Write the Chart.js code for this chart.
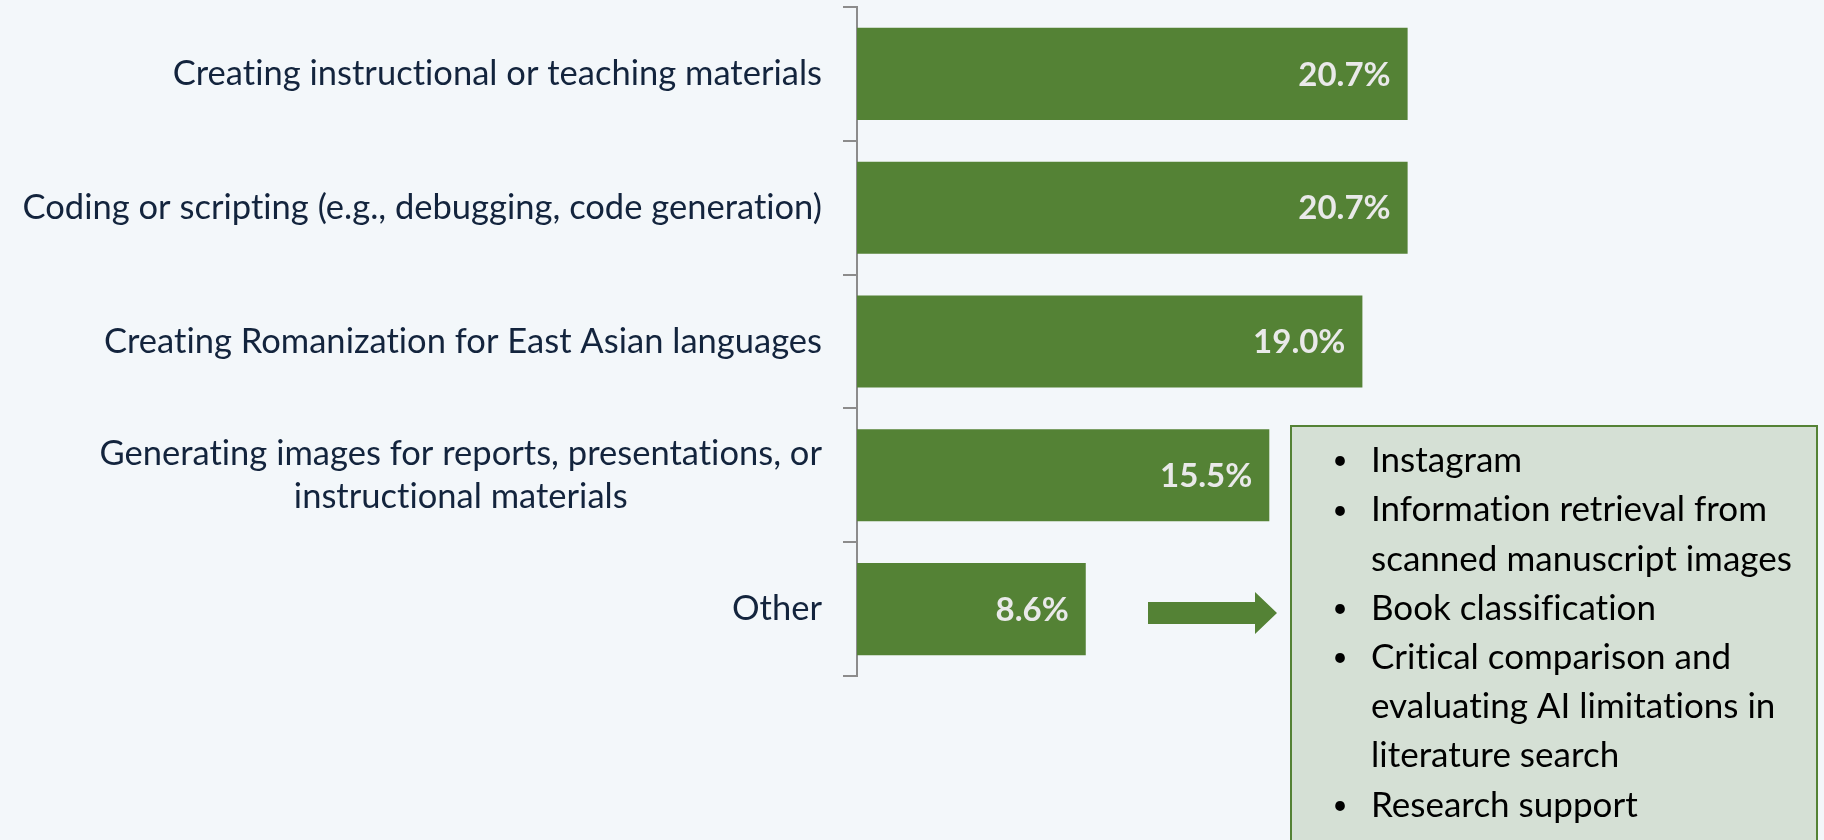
<!DOCTYPE html>
<html>
<head>
<meta charset="utf-8">
<script src="https://cdn.jsdelivr.net/npm/chart.js@4.4.1/dist/chart.umd.min.js"></script>
<style>
  html, body { margin: 0; padding: 0; background: #f3f7fa; }
  #wrap { width: 1824px; height: 840px; }
</style>
</head>
<body>
<div id="wrap"><canvas id="chart" width="1824" height="840"></canvas></div>
<script>
// category labels (one array of lines per bar)
const categories = [
    ["Creating instructional or teaching materials"],
    ["Coding or scripting (e.g., debugging, code generation)"],
    ["Creating Romanization for East Asian languages"],
    ["Generating images for reports, presentations, or", "instructional materials"],
    ["Other"]
];
const shares = [20.7, 20.7, 19.0, 15.5, 8.6];

// what "Other" covers, shown in the side box
const otherNotes = [
    ["Instagram"],
    ["Information retrieval from", "scanned manuscript images"],
    ["Book classification"],
    ["Critical comparison and", "evaluating AI limitations in", "literature search"],
    ["Research support"]
];

const GREEN = "#548235";
const AXIS = "#8c8c8c";
const LABEL_FONT = "Lato";

function noLigatures(ctx) {
    // Lato has a "ti" ligature the original font doesn't show
    if ("textRendering" in ctx) ctx.textRendering = "optimizeSpeed";
    if ("letterSpacing" in ctx) ctx.letterSpacing = "0.01px";
}

// category labels: block right-aligned next to the axis, lines centred inside the block
const yLabels = {
    id: "yLabels",
    afterDraw(chart) {
        const ctx = chart.ctx;
        const y = chart.scales.y;
        ctx.save();
        noLigatures(ctx);
        ctx.font = `34.5px ${LABEL_FONT}`;
        ctx.fillStyle = "#13243d";
        ctx.textBaseline = "middle";
        ctx.textAlign = "center";
        categories.forEach((lines, i) => {
            const cy = y.getPixelForValue(i);
            const w = Math.max(...lines.map(l => ctx.measureText(l).width));
            const cx = y.right - 35 - w / 2;
            const lh = 43;
            lines.forEach((l, k) => {
                ctx.fillText(l, cx, cy + (k - (lines.length - 1) / 2) * lh);
            });
        });
        ctx.restore();
    }
};

// value labels inside the bar ends
const valueLabels = {
    id: "valueLabels",
    afterDatasetsDraw(chart) {
        const ctx = chart.ctx;
        const meta = chart.getDatasetMeta(0);
        ctx.save();
        ctx.font = `bold 33px ${LABEL_FONT}`;
        ctx.fillStyle = "#e9e9e9";
        ctx.textAlign = "right";
        ctx.textBaseline = "middle";
        meta.data.forEach((bar, i) => {
            ctx.fillText(shares[i].toFixed(1) + "%", bar.x - 17, bar.y + 1);
        });
        ctx.restore();
    }
};

// arrow from "Other" to the note box
const otherBox = {
    id: "otherBox",
    afterDraw(chart) {
        const ctx = chart.ctx;
        const ay = chart.scales.y.getPixelForValue(categories.length - 1) + 4;
        ctx.save();

        ctx.fillStyle = GREEN;
        ctx.beginPath();
        ctx.moveTo(1148, ay - 11);
        ctx.lineTo(1255, ay - 11);
        ctx.lineTo(1255, ay - 21);
        ctx.lineTo(1277, ay);
        ctx.lineTo(1255, ay + 21);
        ctx.lineTo(1255, ay + 11);
        ctx.lineTo(1148, ay + 11);
        ctx.closePath();
        ctx.fill();

        ctx.fillStyle = "#d5e0d5";
        ctx.strokeStyle = GREEN;
        ctx.lineWidth = 2;
        ctx.fillRect(1291, 426, 526, 430);
        ctx.strokeRect(1291, 426, 526, 430);

        noLigatures(ctx);
        ctx.fillStyle = "#000000";
        ctx.textBaseline = "middle";
        let ly = 461;
        otherNotes.forEach(item => {
            ctx.font = `26px ${LABEL_FONT}`;
            ctx.textAlign = "center";
            ctx.fillText("\u2022", 1340, ly);
            ctx.font = `35px ${LABEL_FONT}`;
            ctx.textAlign = "left";
            item.forEach(line => {
                ctx.fillText(line, 1371, ly);
                ly += 49.2;
            });
        });
        ctx.restore();
    }
};

function draw() {
    new Chart(document.getElementById("chart"), {
        type: "bar",
        data: {
            labels: categories,
            datasets: [{
                data: shares,
                backgroundColor: GREEN,
                borderWidth: 0,
                categoryPercentage: 1,
                barPercentage: 0.688
            }]
        },
        plugins: [yLabels, valueLabels, otherBox],
        options: {
            indexAxis: "y",
            responsive: false,
            devicePixelRatio: 1,
            animation: false,
            layout: { padding: { top: 7, bottom: 164, right: 302, left: 0 } },
            plugins: {
                legend: { display: false },
                tooltip: { enabled: false }
            },
            scales: {
                x: { display: false, min: 0, max: 25 },
                y: {
                    grid: {
                        offset: true,
                        drawOnChartArea: false,
                        drawTicks: true,
                        tickLength: 14,
                        color: AXIS,
                        lineWidth: 2
                    },
                    border: { display: true, color: AXIS, width: 2 },
                    ticks: { display: false },
                    afterFit: (scale) => { scale.width = 857; }
                }
            }
        }
    });
}

Promise.all([
    document.fonts.load(`34.5px ${LABEL_FONT}`),
    document.fonts.load(`bold 33px ${LABEL_FONT}`)
]).then(draw, draw);
</script>
</body>
</html>
